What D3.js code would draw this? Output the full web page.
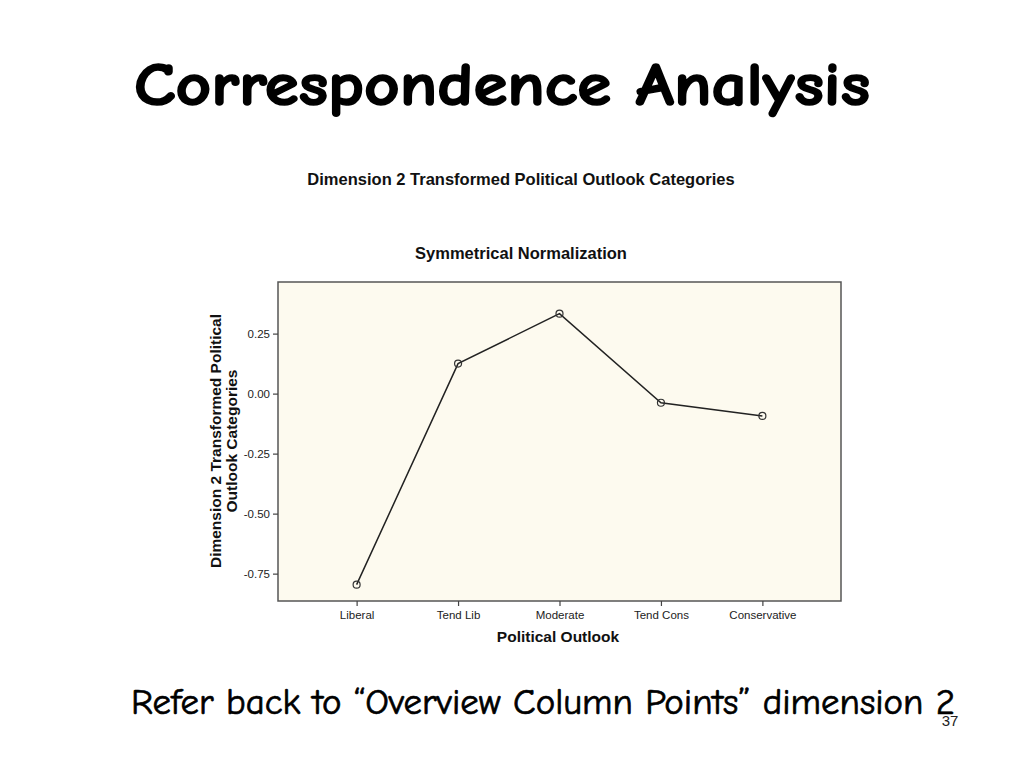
<!DOCTYPE html>
<html>
<head>
<meta charset="utf-8">
<script src="https://cdn.jsdelivr.net/npm/d3@7/dist/d3.min.js"></script>
<style>
html,body{margin:0;padding:0;background:#fff;}
svg{display:block;}
</style>
</head>
<body>
<script>
const categories = ["Liberal", "Tend Lib", "Moderate", "Tend Cons", "Conservative"];
const values = [-0.796, 0.125, 0.333, -0.038, -0.093];
const yTicks = [0.25, 0.00, -0.25, -0.50, -0.75];
const slideTitle = "Correspondence Analysis";
const chartTitle = "Dimension 2 Transformed Political Outlook Categories";
const chartSubtitle = "Symmetrical Normalization";
const yLabelLines = ["Dimension 2 Transformed Political", "Outlook Categories"];
const xLabel = "Political Outlook";
const footer = "Refer back to \u201cOverview Column Points\u201d dimension 2";
const pageNum = "37";

const W = 1024, H = 768;
const svg = d3.select("body").append("svg").attr("width", W).attr("height", H);

const comic = "'Comic Sans MS','Comic Neue','DejaVu Sans',sans-serif";
const arial = "Arial,'Liberation Sans',Helvetica,sans-serif";

// slide title
svg.append("text").attr("x", 134).attr("y", 105)
  .attr("font-family", comic).attr("font-weight", "bold").attr("font-size", 61)
  .attr("stroke", "#000").attr("stroke-width", 1.6).attr("stroke-linejoin", "round")
  .attr("textLength", 736).attr("lengthAdjust", "spacingAndGlyphs")
  .text(slideTitle);

// chart titles
svg.append("text").attr("x", 521).attr("y", 185).attr("text-anchor", "middle")
  .attr("font-family", arial).attr("font-weight", "bold").attr("font-size", 16.5)
  .attr("fill", "#111").text(chartTitle);
svg.append("text").attr("x", 521).attr("y", 259).attr("text-anchor", "middle")
  .attr("font-family", arial).attr("font-weight", "bold").attr("font-size", 16.5)
  .attr("fill", "#111").text(chartSubtitle);

// plot area
const L = 278, T = 282, R = 841, B = 601;
const x = d3.scalePoint().domain(categories).range([L, R]).padding(0.775);
const y = d3.scaleLinear().domain([-0.864, 0.465]).range([B, T]);

svg.append("rect").attr("x", L).attr("y", T).attr("width", R - L).attr("height", B - T)
  .attr("fill", "#FDFAEF").attr("stroke", "#555").attr("stroke-width", 1.5);

const axFont = g => g.selectAll("text").attr("font-family", arial).attr("font-size", 11.5).attr("fill", "#222");

const yAxis = svg.append("g").attr("transform", `translate(${L},0)`)
  .call(d3.axisLeft(y).tickValues(yTicks).tickFormat(d => d3.format(".2f")(d).replace("\u2212", "-")).tickSize(5).tickPadding(3));
yAxis.select(".domain").remove();
yAxis.selectAll("line").attr("stroke", "#444").attr("stroke-width", 1.2);
axFont(yAxis);

const xAxis = svg.append("g").attr("transform", `translate(0,${B})`)
  .call(d3.axisBottom(x).tickSize(5).tickPadding(5));
xAxis.select(".domain").remove();
xAxis.selectAll("line").attr("stroke", "#444").attr("stroke-width", 1.2);
axFont(xAxis);

// axis labels
svg.append("text").attr("x", 558).attr("y", 642).attr("text-anchor", "middle")
  .attr("font-family", arial).attr("font-weight", "bold").attr("font-size", 15.5)
  .attr("fill", "#111").text(xLabel);

const yl = svg.append("text").attr("transform", "translate(0,441) rotate(-90)")
  .attr("text-anchor", "middle").attr("font-family", arial).attr("font-weight", "bold")
  .attr("font-size", 15.5).attr("fill", "#111");
yl.selectAll("tspan").data(yLabelLines).join("tspan")
  .attr("x", 0).attr("y", (d, i) => 221 + i * 16).text(d => d);

// line + markers
const data = categories.map((c, i) => ({c, v: values[i]}));
svg.append("path").datum(data)
  .attr("d", d3.line().x(d => x(d.c)).y(d => y(d.v)))
  .attr("fill", "none").attr("stroke", "#222").attr("stroke-width", 1.5);
svg.selectAll("circle.pt").data(data).join("circle").attr("class", "pt")
  .attr("cx", d => x(d.c)).attr("cy", d => y(d.v)).attr("r", 3.5)
  .attr("fill", "none").attr("stroke", "#333").attr("stroke-width", 1.2);

// footer
svg.append("text").attr("x", 131).attr("y", 714)
  .attr("font-family", comic).attr("font-size", 36)
  .attr("stroke", "#000").attr("stroke-width", 0.7)
  .attr("textLength", 824).attr("lengthAdjust", "spacingAndGlyphs")
  .text(footer);
svg.append("text").attr("x", 950).attr("y", 726).attr("text-anchor", "middle")
  .attr("font-family", arial).attr("font-size", 15).attr("fill", "#222").text(pageNum);
</script>
</body>
</html>
